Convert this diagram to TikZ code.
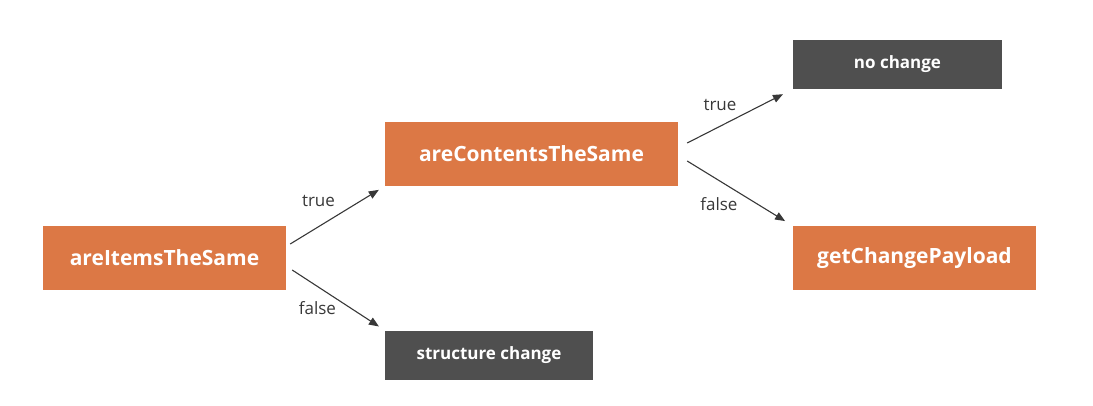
\documentclass[tikz,border=0pt]{standalone}
\usepackage{fontspec}
\setmainfont{Open Sans}
\usepackage{tikz}
\usetikzlibrary{arrows.meta}
\usepackage{xcolor}
\definecolor{caixa}{HTML}{DC7845}
\definecolor{fosc}{HTML}{4F4F4F}
\definecolor{fletxa}{HTML}{383838}

\begin{document}
\begin{tikzpicture}[
    x=1pt,
    y=-1pt,
    >={Triangle[length=10pt,width=8pt]},
    metode/.style={
        fill=caixa,
        text=white,
        font=\fontsize{21}{24}\selectfont\bfseries,
        minimum height=64pt,
        inner sep=0pt
    },
    resultat/.style={
        fill=fosc,
        text=white,
        font=\fontsize{17}{20}\selectfont\bfseries,
        minimum width=208pt,
        minimum height=49pt,
        inner sep=0pt
    },
    branca/.style={
        ->,
        fletxa,
        line width=1.1pt
    },
    etiqueta/.style={
        text=fletxa,
        font=\fontsize{17}{20}\selectfont,
        inner sep=2pt
    }
]

    % Marges
    \useasboundingbox (0,0) rectangle (1093,405);

    % Caixes
    \node[metode, minimum width=243pt] (items) at (164.5,257.5) {areItemsTheSame};
    \node[metode, minimum width=293pt] (contents) at (531.5,154) {areContentsTheSame};
    \node[metode, minimum width=243pt] (payload) at (914.5,258) {getChangePayload};

    % Resultats
    \node[resultat, minimum width=209pt] (nochange) at (897.5,64.5) {no change};
    \node[resultat] (structure) at (489,355) {structure change};

    % areItemsTheSame
    \draw[
        branca,
        shorten >=7pt
    ] ([xshift=4pt,yshift=13.5pt]items.east) -- (contents.south west)
        node[etiqueta, midway, above left, yshift=6pt] {true};

    \draw[
        branca,
        shorten >=7pt
    ] ([xshift=6pt,yshift=-12.5pt]items.east) -- (structure.north west)
        node[etiqueta, midway, below left, yshift=1pt] {false};

    % areContentsTheSame
    \draw[
        branca,
        shorten >=11pt
    ] ([xshift=9pt,yshift=11pt]contents.east) -- (nochange.south west)
        node[etiqueta, midway, above left, xshift=-1pt, yshift=3pt] {true};

    \draw[
        branca,
        shorten >=9pt
    ] ([xshift=9pt,yshift=-7pt]contents.east) -- (payload.north west)
        node[etiqueta, midway, below left, yshift=-2pt] {false};

\end{tikzpicture}
\end{document}
